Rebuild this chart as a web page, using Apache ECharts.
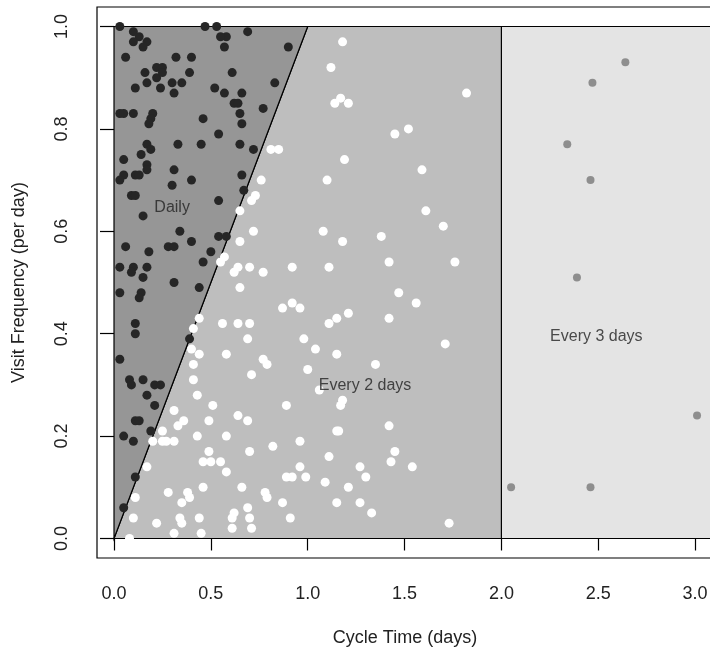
<!DOCTYPE html>
<html>
<head>
<meta charset="utf-8">
<script src="https://cdn.jsdelivr.net/npm/echarts@6/dist/echarts.min.js"></script>
<style>
body{margin:0;background:#fff;}
#chart{width:710px;height:651px;}
</style>
</head>
<body>
<div id="chart"></div>
<script>
// points: [cycle time (days), visit frequency (per day)]
var dailyPoints = [
  [0.03,1.00],[0.10,0.99],[0.13,0.98],[0.17,0.97],[0.10,0.97],[0.15,0.96],[0.06,0.94],[0.47,1.00],
  [0.53,1.00],[0.58,0.98],[0.55,0.98],[0.57,0.96],[0.69,0.99],[0.90,0.96],[0.32,0.94],[0.40,0.94],
  [0.22,0.92],[0.25,0.92],[0.16,0.91],[0.22,0.90],[0.25,0.91],[0.17,0.89],[0.35,0.89],[0.39,0.91],
  [0.30,0.89],[0.24,0.88],[0.11,0.88],[0.31,0.87],[0.61,0.91],[0.52,0.88],[0.57,0.87],[0.66,0.87],
  [0.83,0.89],[0.62,0.85],[0.64,0.85],[0.65,0.83],[0.77,0.84],[0.03,0.83],[0.05,0.83],[0.10,0.83],
  [0.20,0.83],[0.19,0.82],[0.18,0.81],[0.46,0.82],[0.66,0.81],[0.54,0.79],[0.33,0.77],[0.45,0.77],
  [0.65,0.77],[0.72,0.76],[0.17,0.77],[0.19,0.76],[0.05,0.74],[0.14,0.75],[0.17,0.73],[0.17,0.72],
  [0.11,0.71],[0.13,0.71],[0.05,0.71],[0.03,0.70],[0.31,0.72],[0.40,0.70],[0.30,0.69],[0.66,0.71],
  [0.67,0.68],[0.09,0.67],[0.11,0.67],[0.54,0.66],[0.15,0.63],[0.34,0.60],[0.40,0.58],[0.54,0.59],
  [0.58,0.59],[0.06,0.57],[0.18,0.56],[0.28,0.57],[0.31,0.57],[0.50,0.56],[0.46,0.54],[0.03,0.53],
  [0.10,0.53],[0.09,0.52],[0.17,0.53],[0.15,0.51],[0.31,0.50],[0.03,0.48],[0.14,0.48],[0.13,0.47],
  [0.44,0.49],[0.11,0.42],[0.11,0.40],[0.39,0.39],[0.03,0.35],[0.08,0.31],[0.09,0.30],[0.15,0.31],
  [0.21,0.30],[0.24,0.30],[0.17,0.28],[0.21,0.26],[0.11,0.23],[0.13,0.23],[0.19,0.21],[0.05,0.20],
  [0.10,0.19],[0.11,0.12],[0.05,0.06]
];
var every2Points = [
  [0.81,0.76],[0.85,0.76],[0.76,0.70],[0.71,0.66],[0.73,0.67],[0.65,0.64],[0.72,0.60],[0.65,0.58],
  [0.57,0.55],[0.55,0.54],[0.62,0.52],[0.64,0.53],[0.70,0.53],[0.77,0.52],[0.92,0.53],[0.65,0.49],
  [0.87,0.45],[0.92,0.46],[0.96,0.45],[0.44,0.43],[0.41,0.41],[0.56,0.42],[0.64,0.42],[0.70,0.42],
  [0.69,0.39],[0.98,0.39],[1.04,0.37],[0.40,0.37],[0.44,0.36],[0.58,0.36],[0.77,0.35],[0.79,0.34],
  [0.41,0.34],[1.00,0.33],[0.41,0.31],[0.71,0.32],[0.43,0.28],[0.51,0.26],[0.89,0.26],[0.64,0.24],
  [0.69,0.23],[0.31,0.25],[0.36,0.23],[0.33,0.22],[0.49,0.23],[0.25,0.21],[0.27,0.19],[0.25,0.19],
  [0.31,0.19],[0.20,0.19],[0.43,0.20],[0.58,0.20],[0.96,0.19],[0.49,0.17],[0.70,0.17],[0.82,0.18],
  [0.46,0.15],[0.50,0.15],[0.55,0.15],[0.58,0.13],[0.17,0.14],[0.96,0.14],[0.89,0.12],[0.92,0.12],
  [0.99,0.12],[0.46,0.10],[0.66,0.10],[0.28,0.09],[0.38,0.09],[0.39,0.08],[0.35,0.07],[0.79,0.08],
  [0.78,0.09],[0.87,0.07],[0.11,0.08],[0.69,0.06],[0.62,0.05],[0.61,0.04],[0.70,0.04],[0.34,0.04],
  [0.44,0.04],[0.10,0.04],[0.22,0.03],[0.35,0.03],[0.61,0.02],[0.71,0.02],[0.91,0.04],[0.31,0.01],
  [0.45,0.01],[0.08,0.00],
  [1.18,0.97],[1.12,0.92],[1.14,0.85],[1.17,0.86],[1.21,0.85],[1.82,0.87],[1.45,0.79],[1.52,0.80],
  [1.19,0.74],[1.10,0.70],[1.59,0.72],[1.61,0.64],[1.70,0.61],[1.08,0.60],[1.18,0.58],[1.38,0.59],
  [1.42,0.54],[1.76,0.54],[1.11,0.53],[1.47,0.48],[1.56,0.46],[1.11,0.42],[1.15,0.43],[1.21,0.44],
  [1.42,0.43],[1.15,0.36],[1.35,0.34],[1.71,0.38],[1.06,0.29],[1.17,0.26],[1.18,0.27],[1.42,0.22],
  [1.16,0.21],[1.15,0.21],[1.11,0.16],[1.45,0.17],[1.43,0.15],[1.27,0.14],[1.30,0.12],[1.54,0.14],
  [1.09,0.11],[1.21,0.10],[1.15,0.07],[1.27,0.07],[1.33,0.05],[1.73,0.03]
];
var every3Points = [
  [2.64,0.93],[2.47,0.89],[2.34,0.77],[2.46,0.70],[2.39,0.51],[3.01,0.24],[2.05,0.10],[2.46,0.10]
];

// shaded zones (polygon corners in data units)
var zoneNames = ['Every 3 days', 'Every 2 days', 'Daily'];
var zoneShapes = [
  [[2,0],[2,1],[3.3,1],[3.3,0]],
  [[0,0],[1,1],[2,1],[2,0]],
  [[0,0],[0,1],[1,1]]
];
var zoneColors = ['#e4e4e4', '#bebebe', '#969696'];

var zoneLabels = [
  {name:'Daily', value:[0.30,0.647]},
  {name:'Every 2 days', value:[1.296,0.298]},
  {name:'Every 3 days', value:[2.49,0.395]}
];

var xTicks = [0, 0.5, 1, 1.5, 2, 2.5, 3];
var yTicks = [0, 0.2, 0.4, 0.6, 0.8, 1];

var chart = echarts.init(document.getElementById('chart'));
var fnt = 'Liberation Sans, Arial, sans-serif';

var option = {
  animation: false,
  backgroundColor: '#fff',
  // box runs past the right edge of the picture, like the cropped original
  grid: {left: 97, top: 7, width: 616, height: 551, outerBoundsMode: 'none',
         show: true, borderColor: '#000', borderWidth: 1.2, backgroundColor: 'transparent'},
  xAxis: {
    type: 'value', min: -0.0878, max: 3.0924,
    name: 'Cycle Time (days)', nameLocation: 'middle', nameGap: 71,
    nameTextStyle: {fontFamily: fnt, fontSize: 18, color: '#222'},
    splitLine: {show: false},
    axisLine: {show: false},
    axisTick: {show: true, length: 12, customValues: xTicks, lineStyle: {color: '#000', width: 1.2}},
    axisLabel: {customValues: xTicks, margin: 27, fontFamily: fnt, fontSize: 18, color: '#222',
                formatter: function (v) { return v.toFixed(1); }}
  },
  yAxis: {
    type: 'value', min: -0.0381, max: 1.0381,
    name: 'Visit Frequency (per day)', nameLocation: 'middle', nameGap: 69, nameRotate: 90,
    nameTextStyle: {fontFamily: fnt, fontSize: 18, color: '#222'},
    splitLine: {show: false},
    axisLine: {show: false},
    axisTick: {show: true, length: 14, customValues: yTicks, lineStyle: {color: '#000', width: 1.2}},
    axisLabel: {customValues: yTicks, rotate: 90, margin: 26, fontFamily: fnt, fontSize: 18, color: '#222',
                formatter: function (v) { return v.toFixed(1); }}
  },
  series: [
    {
      type: 'custom',
      silent: true,
      z: 1,
      data: zoneNames.map(function (n, i) { return [i]; }),
      renderItem: function (params, api) {
        var i = params.dataIndex;
        return {
          type: 'polygon',
          shape: {points: zoneShapes[i].map(function (p) { return api.coord(p); })},
          style: {fill: zoneColors[i], stroke: '#000', lineWidth: 1.2}
        };
      }
    },
    {
      type: 'scatter', name: 'Daily', data: dailyPoints, z: 3, silent: true,
      symbolSize: 9, itemStyle: {color: '#262626', opacity: 1}
    },
    {
      type: 'scatter', name: 'Every 2 days', data: every2Points, z: 3, silent: true,
      symbolSize: 9, itemStyle: {color: '#ffffff', opacity: 1}
    },
    {
      type: 'scatter', name: 'Every 3 days', data: every3Points, z: 3, silent: true,
      symbolSize: 8, itemStyle: {color: '#8e8e8e', opacity: 1}
    },
    {
      type: 'scatter', data: zoneLabels, z: 4, silent: true, symbolSize: 0,
      label: {show: true, position: 'inside', formatter: '{b}',
              fontFamily: fnt, fontSize: 16, color: '#222'}
    }
  ]
};
chart.setOption(option);
</script>
</body>
</html>
